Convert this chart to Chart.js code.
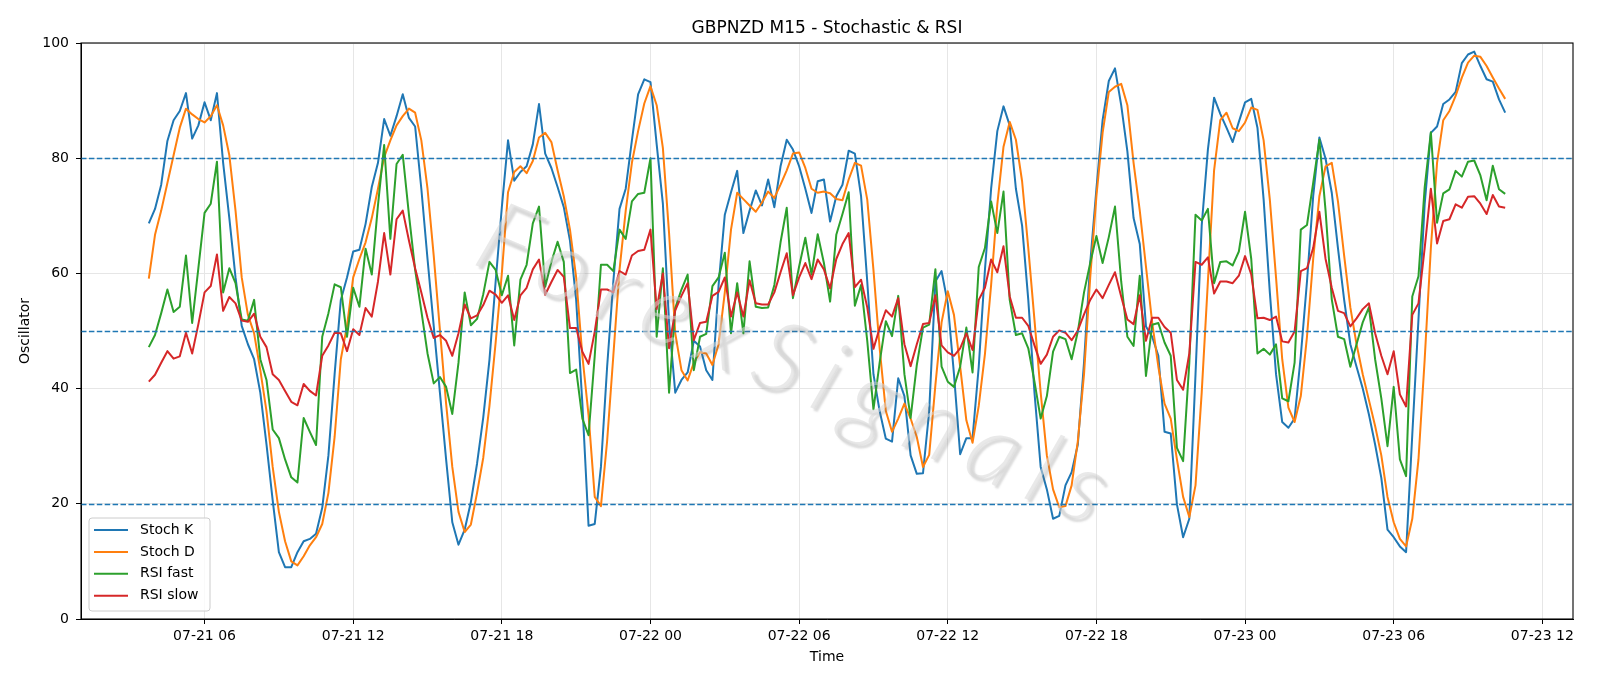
<!DOCTYPE html>
<html>
<head>
<meta charset="utf-8">
<title>GBPNZD M15 - Stochastic & RSI</title>
<script src="https://cdn.jsdelivr.net/npm/chart.js@4.4.1/dist/chart.umd.min.js"></script>
<style>
    html, body { margin: 0; padding: 0; background: #ffffff; }
    #wrap { width: 1600px; height: 686px; }
</style>
</head>
<body>
<div id="wrap"><canvas id="oscchart" width="1600" height="686"></canvas></div>
<script>
// hours counted from 07-21 00:00, one bar every 15 minutes
const startHour = 3.75;
const stepHours = 0.25;
const tickHours = [6, 12, 18, 24, 30, 36, 42, 48, 54, 60];
const yTicks = [0, 20, 40, 60, 80, 100];
const levelLines = [20, 50, 80];

const stochK = [
    68.7, 71.2, 75.4, 83.0, 86.6, 88.2, 91.3, 83.4, 85.7, 89.7,
    86.6, 91.3, 79.2, 69.6, 59.3, 50.9, 47.7, 45.1, 39.3, 30.3,
    20.6, 11.6, 9.0, 9.0, 11.6, 13.5, 13.9, 14.8, 19.3, 28.4,
    42.5, 55.4, 59.3, 63.8, 64.1, 68.6, 75.0, 79.2, 86.8, 83.9,
    87.3, 91.1, 87.0, 85.5, 74.7, 62.5, 50.9, 39.3, 27.7, 16.8,
    12.9, 15.5, 20.3, 27.0, 35.0, 45.0, 58.6, 71.5, 83.1, 76.1,
    77.6, 78.6, 82.4, 89.4, 80.8, 78.3, 75.0, 71.5, 65.7, 55.4,
    37.4, 16.2, 16.5, 26.4, 43.8, 58.6, 71.2, 74.7, 83.1, 91.1,
    93.7, 93.2, 82.4, 72.1, 51.5, 39.3, 41.5, 42.8, 48.3, 47.3,
    43.2, 41.5, 58.0, 70.2, 74.1, 77.8, 67.0, 70.9, 74.4, 71.8,
    76.3, 71.5, 78.6, 83.2, 81.5, 78.6, 74.7, 70.5, 76.0, 76.3,
    69.0, 73.4, 75.4, 81.3, 80.8, 73.4, 58.6, 42.5, 36.1, 31.3,
    30.8, 41.8, 38.7, 28.4, 25.2, 25.3, 36.1, 58.6, 60.4, 54.8,
    42.5, 28.6, 31.4, 31.4, 43.8, 60.6, 74.7, 84.7, 89.0, 85.7,
    74.7, 68.3, 55.4, 39.3, 26.4, 22.5, 17.4, 17.9, 23.2, 25.5,
    30.3, 44.5, 61.8, 74.7, 86.6, 93.4, 95.6, 89.2, 81.2, 69.6,
    65.1, 50.8, 49.0, 45.7, 32.5, 32.2, 19.9, 14.2, 17.4, 42.5,
    68.3, 81.5, 90.5, 87.7, 85.3, 82.8, 86.3, 89.7, 90.3, 85.3,
    72.8, 56.7, 42.5, 34.2, 33.2, 34.8, 45.7, 58.6, 73.4, 83.6,
    79.9, 74.0, 64.4, 55.4, 47.7, 43.8, 40.0, 35.5, 30.3, 24.5,
    15.5, 14.2, 12.6, 11.6, 32.0, 52.0, 72.0, 84.4, 85.5, 89.4,
    90.2, 91.5, 96.5, 98.0, 98.5, 96.0, 93.7, 93.3, 90.2, 87.9
];

const stochD = [
    59.1, 66.7, 70.9, 75.7, 80.5, 85.3, 88.6, 87.6, 86.8, 86.2,
    87.3, 89.2, 85.7, 80.5, 70.9, 59.3, 52.8, 49.6, 43.2, 36.1,
    26.4, 18.6, 13.5, 10.0, 9.3, 10.9, 12.8, 14.2, 16.5, 21.9,
    31.6, 45.1, 50.9, 59.3, 62.5, 65.4, 69.6, 74.7, 80.2, 83.1,
    85.7, 87.3, 88.6, 87.9, 83.1, 74.7, 63.1, 50.2, 37.4, 26.4,
    18.6, 15.1, 16.4, 21.9, 28.0, 37.0, 48.0, 60.0, 74.1, 77.6,
    78.6, 77.4, 79.5, 83.6, 84.4, 82.8, 77.9, 73.4, 67.6, 59.3,
    45.7, 35.4, 21.2, 19.6, 30.9, 45.7, 60.6, 70.9, 79.2, 84.7,
    89.5, 92.5, 89.2, 81.8, 67.0, 49.6, 43.2, 41.4, 44.5, 46.3,
    46.1, 44.1, 47.7, 56.7, 67.6, 74.0, 72.9, 71.8, 70.7, 72.3,
    74.2, 73.1, 75.4, 77.9, 80.8, 81.0, 78.3, 74.7, 74.0, 74.2,
    73.9, 72.9, 72.7, 76.3, 79.2, 78.7, 72.8, 60.6, 47.0, 36.1,
    32.5, 34.8, 37.4, 34.8, 31.6, 26.4, 28.5, 40.6, 51.5, 56.9,
    52.8, 43.8, 34.5, 30.6, 37.0, 46.0, 58.0, 72.0, 82.0, 86.3,
    83.2, 76.0, 64.4, 51.9, 39.3, 28.4, 22.5, 19.4, 19.6, 23.2,
    30.9, 42.5, 59.3, 73.4, 84.4, 91.5, 92.4, 92.9, 89.2, 79.2,
    70.9, 61.2, 51.5, 43.8, 37.4, 34.8, 27.7, 21.2, 17.7, 23.2,
    39.3, 58.6, 77.9, 86.6, 87.9, 85.2, 84.7, 86.2, 88.8, 88.4,
    83.1, 72.8, 59.3, 45.1, 36.7, 34.2, 38.7, 49.0, 62.5, 73.4,
    78.6, 79.2, 72.5, 63.1, 54.1, 47.7, 42.5, 38.0, 33.5, 28.4,
    21.2, 16.8, 13.9, 12.6, 17.4, 27.7, 45.0, 64.4, 79.2, 86.6,
    88.2, 90.8, 94.0, 96.6, 97.8, 97.6, 96.0, 94.0, 92.1, 90.3
];

const rsiFast = [
    47.2, 49.3, 53.1, 57.2, 53.3, 54.2, 63.1, 51.4, 60.9, 70.5,
    72.1, 79.4, 56.7, 60.9, 58.3, 52.0, 51.8, 55.4, 45.1, 41.5,
    32.9, 31.4, 27.7, 24.6, 23.7, 34.9, 32.5, 30.2, 49.0, 53.1,
    58.1, 57.6, 49.0, 57.5, 54.2, 64.3, 59.8, 71.8, 82.3, 66.0,
    79.0, 80.6, 70.2, 60.6, 53.5, 46.1, 40.9, 42.0, 40.3, 35.6,
    44.5, 56.7, 51.0, 52.1, 56.4, 62.0, 60.6, 56.2, 59.6, 47.5,
    58.9, 61.5, 68.7, 71.6, 57.7, 62.0, 65.5, 62.0, 42.7, 43.3,
    34.8, 31.9, 45.7, 61.5, 61.5, 60.4, 67.6, 66.0, 72.5, 73.8,
    74.0, 80.0, 49.0, 60.9, 39.3, 54.0, 57.2, 59.8, 43.2, 49.0,
    49.5, 57.8, 59.3, 63.6, 49.6, 58.3, 49.6, 62.1, 54.2, 54.0,
    54.1, 58.0, 65.4, 71.4, 55.7, 61.2, 66.2, 59.8, 66.8, 61.8,
    55.1, 66.7, 70.3, 74.1, 54.4, 58.0, 48.3, 36.4, 44.5, 51.7,
    49.1, 56.1, 42.5, 34.9, 44.1, 50.6, 51.1, 60.7, 43.8, 41.2,
    40.3, 43.8, 50.6, 42.8, 61.1, 64.4, 72.5, 67.0, 74.2, 55.4,
    49.3, 49.6, 47.0, 41.2, 34.8, 38.7, 46.4, 49.0, 48.6, 45.1,
    49.9, 56.7, 61.8, 66.5, 61.8, 66.3, 71.6, 58.6, 49.0, 47.4,
    59.6, 42.2, 51.1, 51.4, 48.0, 45.7, 29.7, 27.4, 44.5, 70.2,
    69.2, 71.2, 58.3, 62.0, 62.1, 61.4, 63.8, 70.7, 62.5, 46.1,
    46.9, 45.9, 47.7, 38.3, 37.8, 44.5, 67.6, 68.4, 75.7, 83.2,
    70.9, 55.5, 49.0, 48.6, 43.8, 47.7, 51.5, 54.1, 45.1, 38.3,
    30.0, 40.3, 27.7, 24.8, 56.0, 59.5, 74.9, 84.5, 68.8, 73.9,
    74.6, 77.8, 76.8, 79.4, 79.6, 77.0, 72.7, 78.7, 74.6, 73.8
];

const rsiSlow = [
    41.2, 42.4, 44.5, 46.5, 45.2, 45.6, 49.7, 46.1, 51.2, 56.7,
    57.8, 63.3, 53.5, 55.9, 54.8, 51.8, 51.6, 53.0, 49.0, 47.2,
    42.5, 41.5, 39.6, 37.7, 37.1, 40.8, 39.6, 38.8, 45.7, 47.5,
    49.7, 49.6, 46.5, 50.3, 49.3, 54.0, 52.5, 58.6, 67.0, 59.8,
    69.4, 70.9, 65.7, 60.9, 56.7, 52.3, 48.8, 49.3, 48.3, 45.7,
    49.6, 54.6, 52.2, 52.7, 54.5, 57.0, 56.3, 54.9, 56.2, 51.9,
    56.2, 57.5, 60.7, 62.4, 56.3, 58.5, 60.6, 59.4, 50.5, 50.5,
    46.4, 44.3, 49.9, 57.2, 57.2, 56.7, 60.4, 59.8, 63.1, 63.9,
    64.1, 67.6, 53.8, 60.0, 47.0, 53.6, 56.1, 58.3, 48.4, 51.4,
    51.6, 56.1, 56.8, 59.3, 52.5, 56.7, 52.5, 58.8, 54.8, 54.6,
    54.6, 56.7, 60.2, 63.5, 56.2, 59.3, 61.8, 59.0, 62.4, 60.7,
    57.4, 62.5, 65.1, 67.0, 57.6, 58.9, 54.1, 46.9, 50.5, 53.6,
    52.5, 55.7, 47.7, 43.9, 47.7, 51.2, 51.4, 56.2, 47.5, 46.3,
    45.7, 47.0, 49.6, 46.7, 55.4, 57.5, 62.4, 60.2, 64.7, 56.0,
    52.3, 52.3, 50.9, 47.5, 44.3, 45.9, 49.0, 50.1, 49.7, 48.4,
    50.1, 52.9, 55.4, 57.2, 55.7, 58.0, 60.2, 56.0, 52.0, 51.2,
    56.2, 48.3, 52.3, 52.3, 50.7, 49.7, 41.5, 39.8, 46.1, 62.0,
    61.5, 62.8, 56.5, 58.6, 58.6, 58.3, 59.6, 63.0, 59.8, 52.2,
    52.3, 51.9, 52.5, 48.2, 48.0, 49.9, 60.4, 60.9, 64.4, 70.7,
    62.5, 57.5, 53.5, 53.1, 50.8, 52.2, 53.8, 54.8, 49.6, 45.7,
    42.5, 46.5, 39.0, 36.9, 52.8, 54.8, 64.4, 74.7, 65.2, 69.1,
    69.4, 72.0, 71.4, 73.3, 73.4, 72.1, 70.3, 73.6, 71.6, 71.4
];

const FONT = '"DejaVu Sans", sans-serif';

function toPoints(values) {
    return values.map((v, i) => ({ x: startHour + i * stepHours, y: v }));
}

function hourLabel(h) {
    const day = 21 + Math.floor(h / 24);
    const hh = h % 24;
    return '07-' + day + ' ' + (hh < 10 ? '0' + hh : hh);
}

// 5% margin either side, like the original plot
const firstX = startHour;
const lastX = startHour + (stochK.length - 1) * stepHours;
const xPad = (lastX - firstX) * 0.05;

const decorPlugin = {
    id: 'decor',
    afterDatasetsDraw(chart) {
        const ctx = chart.ctx;
        const area = chart.chartArea;
        const yScale = chart.scales.y;

        ctx.save();
        ctx.strokeStyle = '#1f77b4';
        ctx.lineWidth = 1.3;
        ctx.setLineDash([5.5, 2.4]);
        levelLines.forEach(level => {
            const py = Math.round(yScale.getPixelForValue(level)) + 0.5;
            ctx.beginPath();
            ctx.moveTo(area.left, py);
            ctx.lineTo(area.right, py);
            ctx.stroke();
        });
        ctx.restore();

        // watermark
        ctx.save();
        ctx.translate(800, 368);
        ctx.rotate(23 * Math.PI / 180);
        ctx.font = 'italic 300 100px Lato, ' + FONT;
        ctx.letterSpacing = '16px';
        ctx.textAlign = 'center';
        ctx.textBaseline = 'middle';
        ctx.shadowColor = 'rgba(110, 110, 110, 0.45)';
        ctx.shadowOffsetX = 3;
        ctx.shadowOffsetY = 3;
        ctx.shadowBlur = 2;
        ctx.fillStyle = 'rgba(215, 215, 215, 0.55)';
        ctx.fillText('ForexSignals', 0, 0);
        ctx.restore();
    },
    afterDraw(chart) {
        const ctx = chart.ctx;
        const area = chart.chartArea;

        ctx.save();
        // frame
        ctx.strokeStyle = '#000000';
        ctx.lineWidth = 1.1;
        ctx.strokeRect(area.left, area.top, area.right - area.left, area.bottom - area.top);

        // title and axis names
        ctx.fillStyle = '#000000';
        ctx.textAlign = 'center';
        ctx.textBaseline = 'middle';
        ctx.font = '17px ' + FONT;
        ctx.fillText('GBPNZD M15 - Stochastic & RSI', (area.left + area.right) / 2, 29);
        ctx.font = '14px ' + FONT;
        ctx.fillText('Time', (area.left + area.right) / 2, 657);
        ctx.save();
        ctx.translate(25.5, (area.top + area.bottom) / 2);
        ctx.rotate(-Math.PI / 2);
        ctx.fillText('Oscillator', 0, 0);
        ctx.restore();

        // legend, lower left
        const box = { x: 89, y: 518, w: 121, h: 93 };
        ctx.beginPath();
        ctx.roundRect(box.x, box.y, box.w, box.h, 3);
        ctx.fillStyle = 'rgba(255, 255, 255, 0.8)';
        ctx.fill();
        ctx.strokeStyle = '#cccccc';
        ctx.lineWidth = 1;
        ctx.stroke();
        ctx.textAlign = 'left';
        ctx.font = '14px ' + FONT;
        chart.data.datasets.forEach((ds, i) => {
            const ry = 530 + i * 21.9;
            ctx.strokeStyle = ds.borderColor;
            ctx.lineWidth = 2;
            ctx.beginPath();
            ctx.moveTo(94, ry);
            ctx.lineTo(128, ry);
            ctx.stroke();
            ctx.fillStyle = '#000000';
            ctx.fillText(ds.label, 140, ry);
        });
        ctx.restore();
    }
};

function lineSet(label, values, color, order) {
    return {
        label: label,
        data: toPoints(values),
        borderColor: color,
        backgroundColor: color,
        borderWidth: 2,
        borderJoinStyle: 'round',
        pointRadius: 0,
        tension: 0,
        fill: false,
        order: order
    };
}

document.addEventListener('DOMContentLoaded', function() {
    const ctx = document.getElementById('oscchart').getContext('2d');

    new Chart(ctx, {
        type: 'line',
        data: {
            datasets: [
                lineSet('Stoch K', stochK, '#1f77b4', 4),
                lineSet('Stoch D', stochD, '#ff7f0e', 3),
                lineSet('RSI fast', rsiFast, '#2ca02c', 2),
                lineSet('RSI slow', rsiSlow, '#d62728', 1)
            ]
        },
        options: {
            responsive: false,
            animation: false,
            devicePixelRatio: 1,
            layout: { padding: { left: 0, right: 27, top: 43, bottom: 0 } },
            plugins: {
                legend: { display: false },
                title: { display: false },
                tooltip: { enabled: false }
            },
            scales: {
                x: {
                    type: 'linear',
                    min: firstX - xPad,
                    max: lastX + xPad,
                    afterBuildTicks: function(scale) {
                        scale.ticks = tickHours.map(h => ({ value: h }));
                    },
                    afterFit: function(scale) {
                        scale.height = 67;
                        scale.paddingLeft = 0;
                        scale.paddingRight = 0;
                    },
                    ticks: {
                        autoSkip: false,
                        maxRotation: 0,
                        padding: 4,
                        color: '#000000',
                        font: { family: FONT, size: 14 },
                        callback: function(value) { return hourLabel(value); }
                    },
                    grid: {
                        color: '#e6e6e6',
                        lineWidth: 1,
                        tickLength: 5,
                        tickColor: '#000000'
                    },
                    border: { color: '#000000', width: 1 }
                },
                y: {
                    min: 0,
                    max: 100,
                    afterBuildTicks: function(scale) {
                        scale.ticks = yTicks.map(v => ({ value: v }));
                    },
                    afterFit: function(scale) {
                        scale.width = 81;
                    },
                    ticks: {
                        padding: 7,
                        color: '#000000',
                        font: { family: FONT, size: 14 }
                    },
                    grid: {
                        color: '#e6e6e6',
                        lineWidth: 1,
                        tickLength: 5,
                        tickColor: '#000000'
                    },
                    border: { color: '#000000', width: 1 }
                }
            }
        },
        plugins: [decorPlugin]
    });
});
</script>
</body>
</html>
